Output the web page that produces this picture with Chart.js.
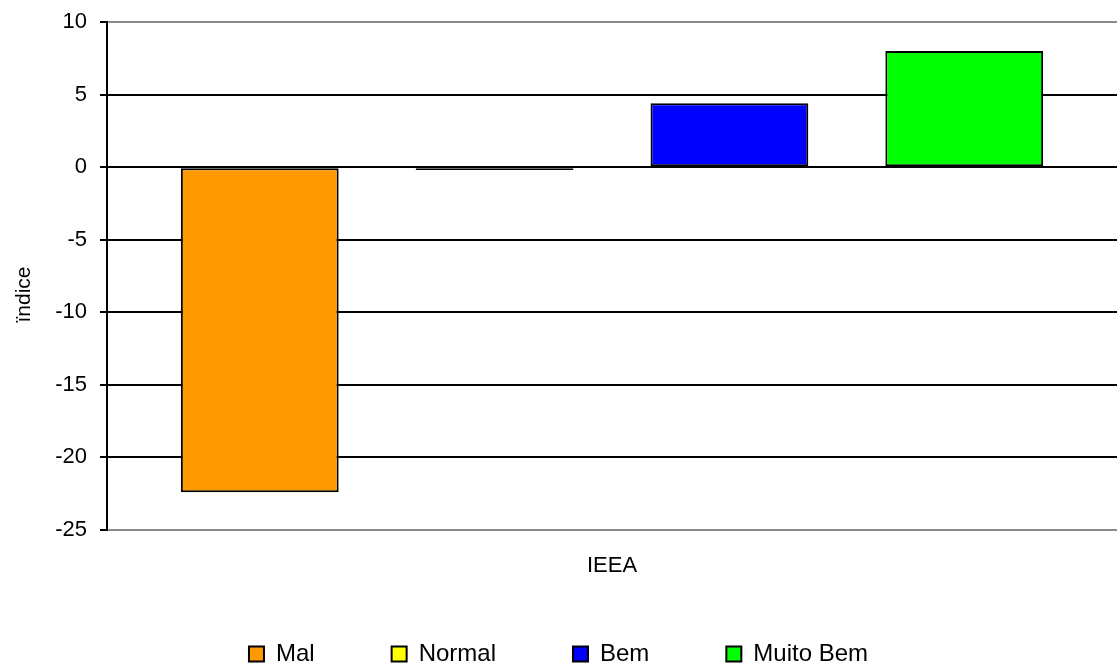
<!DOCTYPE html>
<html lang="pt">
<head>
  <meta charset="UTF-8">
  <title>IEEA</title>
  <script src="https://cdn.jsdelivr.net/npm/chart.js"></script>
  <style>
    html, body { margin: 0; padding: 0; background: #fff; }
    .wrap { width: 1117px; height: 665px; position: relative; }
  </style>
</head>
<body>
  <div class="wrap"><canvas id="chart"></canvas></div>
  <script>
    // Data
    const categories = ['IEEA'];
    const seriesNames = ['Mal', 'Normal', 'Bem', 'Muito Bem'];
    const seriesValues = [-22.4, -0.2, 4.4, 8.0];
    const seriesColors = ['#FF9900', '#FFFF00', '#0000FF', '#00FF00'];
    const yTicks = [10, 5, 0, -5, -10, -15, -20, -25];
    const yTitle = 'ïndice';

    const font = "'Liberation Sans', Arial, sans-serif";

    // y title centred on plot + category label, like the original
    const yTitlePlugin = {
      id: 'yTitle',
      afterDraw(chart) {
        const { ctx, chartArea } = chart;
        const cy = (chartArea.top + chartArea.bottom + 37) / 2;
        ctx.save();
        ctx.translate(24, cy);
        ctx.rotate(-Math.PI / 2);
        ctx.fillStyle = '#000';
        ctx.font = '21px ' + font;
        ctx.textAlign = 'center';
        ctx.textBaseline = 'middle';
        ctx.fillText(yTitle, 0, 0);
        ctx.restore();
      }
    };

    new Chart(document.getElementById('chart'), {
      type: 'bar',
      data: {
        labels: categories,
        datasets: seriesNames.map((name, i) => ({
          label: name,
          data: [seriesValues[i]],
          backgroundColor: seriesColors[i],
          borderColor: '#000',
          borderWidth: 2,
          borderSkipped: false,
          barPercentage: 0.672,
          categoryPercentage: 0.93
        }))
      },
      plugins: [yTitlePlugin],
      options: {
        responsive: true,
        maintainAspectRatio: false,
        animation: false,
        layout: { padding: { top: 22, right: 0, left: 0, bottom: -11 } },
        plugins: {
          tooltip: { enabled: false },
          legend: {
            position: 'bottom',
            labels: {
              color: '#000',
              font: { family: font, size: 24 },
              boxWidth: 15,
              boxHeight: 15,
              padding: 77
            }
          }
        },
        scales: {
          x: {
            grid: { display: false, drawTicks: false },
            border: { display: false },
            ticks: { display: false },
            // the category name sits below the axis; title avoids the tick-label clip
            title: {
              display: true,
              text: categories[0],
              color: '#000',
              font: { family: font, size: 22 },
              padding: { top: 0, bottom: -14 }
            },
            afterFit: (axis) => { axis.height = 35; }
          },
          y: {
            min: -25,
            max: 10,
            afterBuildTicks: (axis) => { axis.ticks = yTicks.map(v => ({ value: v })); },
            afterFit: (axis) => {
              axis.width = 107;
              axis.paddingTop = 0;
              axis.paddingBottom = 0;
            },
            grid: {
              color: (ctx) => (ctx.tick && (ctx.tick.value === 10 || ctx.tick.value === -25)) ? '#8c8c8c' : '#000',
              lineWidth: 2,
              tickLength: 7,
              tickColor: '#000'
            },
            border: { display: true, color: '#000', width: 2 },
            ticks: { color: '#000', font: { family: font, size: 22 }, padding: 13 }
          }
        }
      }
    });
  </script>
</body>
</html>
